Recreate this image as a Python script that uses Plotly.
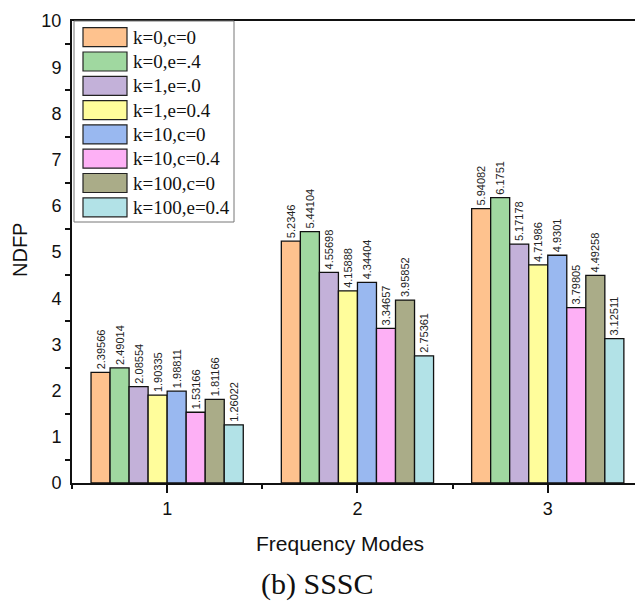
import plotly.graph_objects as go

modes = [1, 2, 3]
mode_labels = ["1", "2", "3"]
series_names = ["k=0,c=0", "k=0,e=.4", "k=1,e=.0", "k=1,e=0.4",
                "k=10,c=0", "k=10,c=0.4", "k=100,c=0", "k=100,e=0.4"]
colors = ["#FEC28E", "#A0D8A0", "#C3B1D9", "#FFFD9B",
          "#99B8F0", "#FDB0F5", "#AAAC88", "#B2E2E7"]
values = [
    [2.39566, 5.2346, 5.94082],
    [2.49014, 5.44104, 6.1751],
    [2.08554, 4.55698, 5.17178],
    [1.90335, 4.15888, 4.71986],
    [1.98811, 4.34404, 4.9301],
    [1.53166, 3.34657, 3.79805],
    [1.81166, 3.95852, 4.49258],
    [1.26022, 2.75361, 3.12511],
]

W, H = 635, 603
L, R, T, B = 72, 0, 21, 120
PW, PH = W - L - R, H - T - B


def px(x):
    return (x - L) / PW


def py(y):
    return (H - B - y) / PH


SANS = "Liberation Sans, Arial, sans-serif"
SERIF = "Liberation Serif, Times New Roman, serif"

fig = go.Figure()
for name, col, vals in zip(series_names, colors, values):
    fig.add_trace(go.Bar(
        x=modes, y=vals, name=name,
        marker=dict(color=col, line=dict(color="#111", width=1.3)),
        text=[str(v) for v in vals], textposition="outside", textangle=-90,
        textfont=dict(family=SANS, size=11, color="#222"),
        constraintext="none", cliponaxis=False, showlegend=False,
    ))

shapes = []
annotations = []
# legend frame
shapes.append(dict(type="rect", xref="paper", yref="paper",
                   x0=px(74), x1=px(234), y0=py(222), y1=py(21),
                   line=dict(color="#777", width=1), fillcolor="white", layer="above"))
for i, (name, col) in enumerate(zip(series_names, colors)):
    top = 27.7 + i * 24.3
    shapes.append(dict(type="rect", xref="paper", yref="paper",
                       x0=px(83), x1=px(127), y0=py(top + 19), y1=py(top),
                       line=dict(color="#222", width=1.2), fillcolor=col, layer="above"))
    annotations.append(dict(xref="paper", yref="paper", x=px(131), y=py(top + 9.5),
                            xanchor="left", yanchor="middle", text=name, showarrow=False,
                            font=dict(family=SERIF, size=19, color="#111")))

annotations.append(dict(xref="paper", yref="paper", x=px(340), y=py(543),
                        xanchor="center", yanchor="middle", text="Frequency Modes",
                        showarrow=False, font=dict(family=SANS, size=21, color="#111")))
annotations.append(dict(xref="paper", yref="paper", x=px(317), y=py(584),
                        xanchor="center", yanchor="middle", text="(b) SSSC",
                        showarrow=False, font=dict(family=SERIF, size=30, color="#111")))
annotations.append(dict(xref="paper", yref="paper", x=px(20), y=py(250),
                        xanchor="center", yanchor="middle", text="NDFP", textangle=-90,
                        showarrow=False, font=dict(family=SANS, size=20, color="#111")))

fig.update_layout(
    width=W, height=H,
    margin=dict(l=L, r=R, t=T, b=B, pad=0),
    paper_bgcolor="white", plot_bgcolor="white",
    barmode="group", bargap=0.2, bargroupgap=0,
    shapes=shapes, annotations=annotations,
    xaxis=dict(range=[0.5, 0.5 + PW / 190.3], tickvals=modes, ticktext=mode_labels,
               showgrid=False, zeroline=False, showline=True, linecolor="#111",
               linewidth=2, mirror=True, ticks="outside", ticklen=8, tickwidth=1.5,
               tickcolor="#111", ticklabelstandoff=0,
               tickfont=dict(family=SANS, size=18, color="#111"),
               minor=dict(tick0=0.5, dtick=1, ticks="outside", ticklen=4,
                          tickwidth=1.5, tickcolor="#111")),
    yaxis=dict(range=[0, 10], dtick=1, tick0=0, showgrid=False, zeroline=False,
               showline=True, linecolor="#111", linewidth=2,
               ticks="outside", ticklen=3, tickcolor="rgba(0,0,0,0)",
               ticklabelstandoff=2,
               tickfont=dict(family=SANS, size=18, color="#111"),
               minor=dict(tick0=0.5, dtick=1, ticks="outside", ticklen=5,
                          tickwidth=1.5, tickcolor="#111")),
)

fig.write_html("out.html", config={"displayModeBar": False},
               post_script="document.body.style.margin='0px';document.body.style.overflow='hidden';")
